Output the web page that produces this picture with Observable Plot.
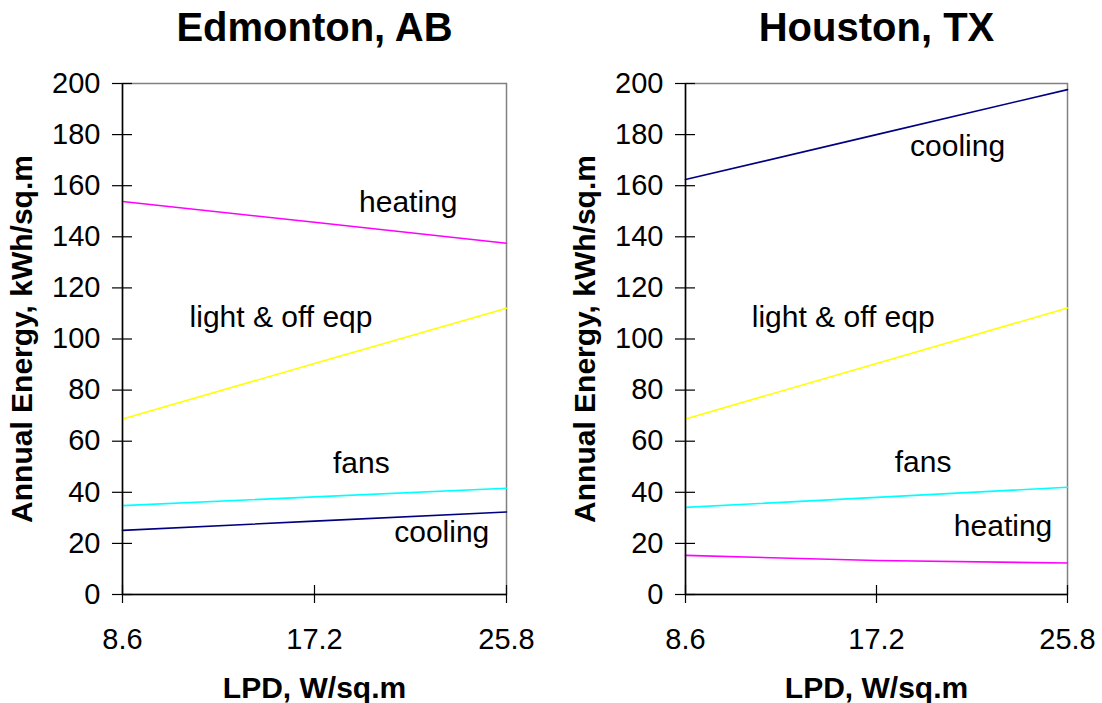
<!DOCTYPE html>
<html>
<head>
<meta charset="utf-8">
<script src="https://cdn.jsdelivr.net/npm/d3@7"></script>
<script src="https://cdn.jsdelivr.net/npm/@observablehq/plot@0.6"></script>
<style>
  html, body { margin: 0; padding: 0; background: #fff; }
  #wrap { display: flex; width: 1102px; height: 703px; }
</style>
</head>
<body>
<div id="wrap"></div>
<script>
// ---- data ----
const lpd = [8.6, 17.2, 25.8];
const yTicks = [0, 20, 40, 60, 80, 100, 120, 140, 160, 180, 200];
const seriesNames = ["heating", "light & off eqp", "fans", "cooling"];
const seriesColors = ["#FF00FF", "#FFFF00", "#00FFFF", "#000080"];

const cityTitles = ["Edmonton, AB", "Houston, TX"];
const xLabel = "LPD, W/sq.m";
const yLabel = "Annual Energy, kWh/sq.m";

// Edmonton, AB
const edmHeating = [153.8, 145.7, 137.5];
const edmLight   = [68.7, 90.4, 112.0];
const edmFans    = [34.8, 38.2, 41.6];
const edmCooling = [25.1, 28.7, 32.3];
// label anchor positions (x in LPD, y in kWh/sq.m)
const edmLabelX = [21.4, 15.7, 19.3, 22.9];
const edmLabelY = [153.3, 108.3, 51.2, 24.2];

// Houston, TX
const houHeating = [15.3, 13.3, 12.3];
const houLight   = [68.7, 90.4, 112.1];
const houFans    = [34.1, 38.0, 42.0];
const houCooling = [162.4, 180.0, 197.6];
const houLabelX = [22.9, 15.7, 19.3, 20.85];
const houLabelY = [26.6, 108.3, 51.6, 175.2];

const FONT = "'Liberation Sans', Arial, Helvetica, sans-serif";

function rowsFor(arrs) {
  const rows = [];
  arrs.forEach((vals, i) => vals.forEach((v, j) => rows.push({series: seriesNames[i], x: lpd[j], y: v})));
  return rows;
}
function labelsFor(xs, ys) {
  return seriesNames.map((s, i) => ({series: s, x: xs[i], y: ys[i]}));
}

function panel(title, series, labels, margins) {
  const W = 551, H = 703;
  const frameW = W - margins.left - margins.right;
  const frameH = H - margins.top - margins.bottom;
  return Plot.plot({
    width: W,
    height: H,
    marginLeft: margins.left,
    marginRight: margins.right,
    marginTop: margins.top,
    marginBottom: margins.bottom,
    style: {fontFamily: FONT, color: "black", background: "white", overflow: "visible"},
    x: {domain: [8.6, 25.8]},
    y: {domain: [0, 200]},
    color: {domain: seriesNames, range: seriesColors},
    marks: [
      Plot.frame({stroke: "#808080", strokeWidth: 1.5}),
      Plot.line(series, {x: "x", y: "y", z: "series", stroke: "series", strokeWidth: 1.6}),
      Plot.ruleX([8.6], {stroke: "black", strokeWidth: 1.5}),
      Plot.ruleY([0], {stroke: "black", strokeWidth: 1.5}),
      Plot.axisY({ticks: yTicks, tickSize: 10, tickPadding: 12, fontSize: 29, label: null, strokeWidth: 1.2}),
      Plot.tickY(yTicks, {y: d => d, stroke: "black", strokeWidth: 1.2, insetRight: frameW - 10}),
      Plot.axisX({ticks: lpd, tickFormat: d => d.toFixed(1), tickSize: 9, tickPadding: 25, fontSize: 29, label: null, strokeWidth: 1.2}),
      Plot.tickX(lpd, {x: d => d, stroke: "black", strokeWidth: 1.2, insetTop: frameH - 9}),
      Plot.text(labels, {x: "x", y: "y", text: "series", fontSize: 30, fill: "black"}),
      Plot.text([title], {frameAnchor: "top", lineAnchor: "middle", dy: -55, fontSize: 40, fontWeight: "bold", fill: "black"}),
      Plot.text([xLabel], {frameAnchor: "bottom", lineAnchor: "middle", dy: 94, fontSize: 30, fontWeight: "bold", fill: "black"}),
      Plot.text([yLabel], {frameAnchor: "left", textAnchor: "middle", lineAnchor: "middle", rotate: -90, dx: -100, fontSize: 30, fontWeight: "bold", fill: "black"})
    ]
  });
}

const wrap = document.getElementById("wrap");
wrap.appendChild(panel(cityTitles[0],
  rowsFor([edmHeating, edmLight, edmFans, edmCooling]),
  labelsFor(edmLabelX, edmLabelY),
  {left: 122, right: 45, top: 83, bottom: 109}));
wrap.appendChild(panel(cityTitles[1],
  rowsFor([houHeating, houLight, houFans, houCooling]),
  labelsFor(houLabelX, houLabelY),
  {left: 134, right: 35, top: 83, bottom: 109}));
</script>
</body>
</html>
